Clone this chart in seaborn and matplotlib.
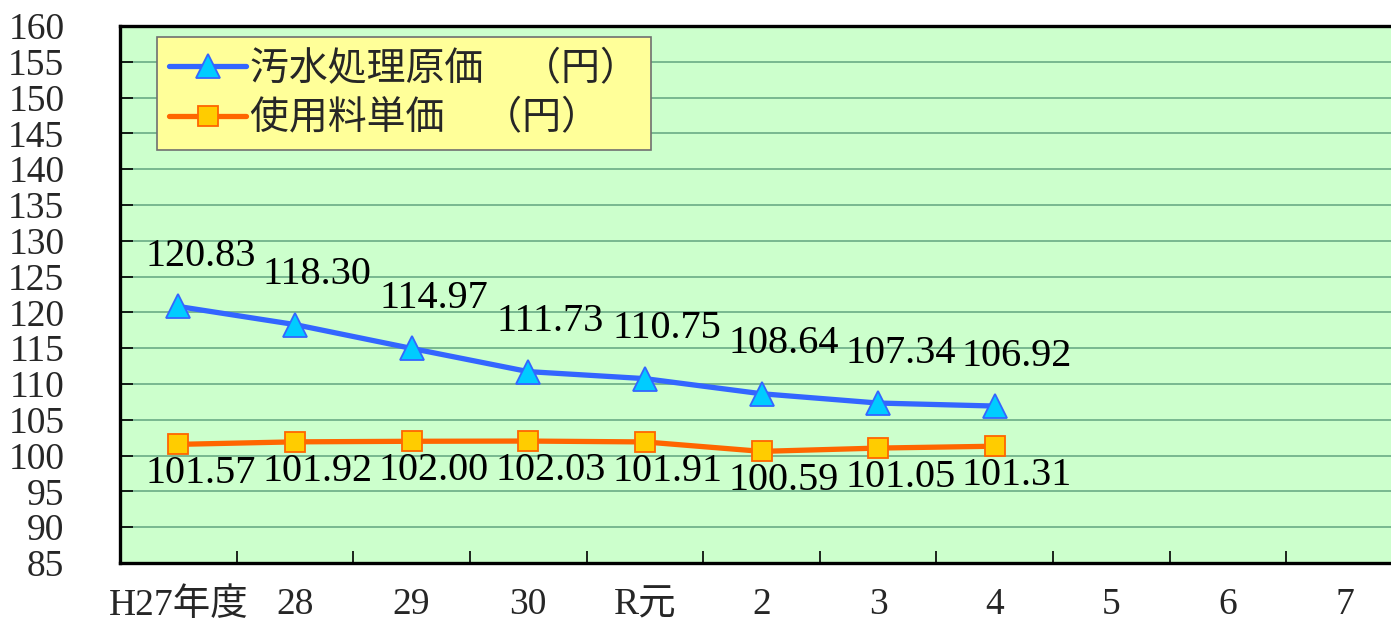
import matplotlib
matplotlib.use("Agg")
import matplotlib.pyplot as plt
import seaborn as sns
import pandas as pd
import numpy as np

categories = ["H27年度", "28", "29", "30", "R元", "2", "3", "4", "5", "6", "7"]
cost_values = [120.83, 118.30, 114.97, 111.73, 110.75, 108.64, 107.34, 106.92]
fee_values = [101.57, 101.92, 102.00, 102.03, 101.91, 100.59, 101.05, 101.31]
series_names = ["汚水処理原価　（円）", "使用料単価　（円）"]
y_ticks = list(range(85, 161, 5))

sns.set_theme(style="white")
plt.rcParams['font.family'] = ['Liberation Serif', 'Noto Sans CJK JP']

fig = plt.figure(figsize=(13.91, 6.32), dpi=100)
ax_w = 1283 / 1391
ax = fig.add_axes([120/1391, 1-563/632, ax_w, (563-26)/632])
ax.set_facecolor("#CCFFCC")

df_cost = pd.DataFrame({"x": range(len(cost_values)), "y": cost_values})
df_fee = pd.DataFrame({"x": range(len(fee_values)), "y": fee_values})

sns.lineplot(data=df_cost, x="x", y="y", ax=ax, color="#3366FF", linewidth=3.8,
             marker="^", markersize=17, markerfacecolor="#00CCFF",
             markeredgecolor="#3366FF", markeredgewidth=1.3, label=series_names[0], zorder=5)
sns.lineplot(data=df_fee, x="x", y="y", ax=ax, color="#FF6600", linewidth=3.8,
             marker="s", markersize=14, markerfacecolor="#FFCC00",
             markeredgecolor="#FF6600", markeredgewidth=1.3, label=series_names[1], zorder=5)

for i, v in enumerate(cost_values):
    ax.annotate(f"{v:.2f}", (i, v), xytext=(16, 36), textcoords="offset points",
                ha="center", va="center", fontsize=29, color="black", zorder=6)
for i, v in enumerate(fee_values):
    ax.annotate(f"{v:.2f}", (i, v), xytext=(16, -21), textcoords="offset points",
                ha="center", va="center", fontsize=29, color="black", zorder=6)

ax.set_xlim(-0.5, len(categories) - 0.5)
ax.set_ylim(85, 160)
ax.set_yticks(y_ticks)
ax.set_yticklabels([str(t) for t in y_ticks])
ax.yaxis.grid(True, color="#78B890", linewidth=1.4)
ax.set_axisbelow(True)

ax.set_xticks(range(len(categories)))
ax.set_xticklabels(categories)
ax.set_xticks(np.arange(0.5, len(categories) - 0.5, 1), minor=True)
ax.tick_params(axis="x", which="major", length=0, pad=18, labelsize=27)
ax.tick_params(axis="x", which="minor", direction="in", length=9, width=1.2, color="black", bottom=True)
ax.tick_params(axis="y", direction="in", length=9, width=1.2, color="black", left=True, pad=40, labelsize=27)
for lbl in ax.get_yticklabels():
    lbl.set_horizontalalignment("right")

ax.set_xlabel("")
ax.set_ylabel("")
for s in ["left", "bottom", "top"]:
    ax.spines[s].set_visible(True)
    ax.spines[s].set_color("black")
    ax.spines[s].set_linewidth(2.4)
ax.spines["right"].set_visible(False)

leg = ax.legend(loc="upper left", bbox_to_anchor=(37/1283, 1 - 11/537), fontsize=28,
                frameon=True, fancybox=False, facecolor="#FFFF99", edgecolor="#707070",
                framealpha=1, borderpad=0.3, labelspacing=0.25, handlelength=2.0,
                handletextpad=0.1, borderaxespad=0)
leg.get_frame().set_linewidth(1.2)
for t in leg.get_texts():
    t.set_family(['Noto Sans CJK JP'])

fig.savefig("out.png", dpi=100)
